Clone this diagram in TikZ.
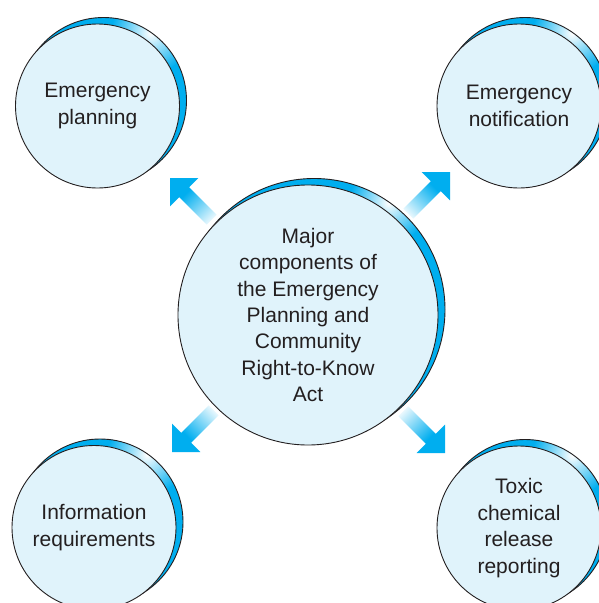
\documentclass[tikz,border=0pt]{standalone}
\usepackage{fontspec}
\setmainfont{Liberation Sans}
\usetikzlibrary{calc}
\definecolor{accent}{RGB}{0,174,239}
\definecolor{discfill}{RGB}{224,243,251}
\definecolor{ink}{RGB}{35,31,32}
\pgfdeclareverticalshading{arrowfade}{100bp}{color(0bp)=(white); color(18bp)=(white); color(62bp)=(accent); color(100bp)=(accent)}
\newcommand\mybackdisc[2]{%
  \begin{scope}
    \clip ($(#1)+(6,-5.5)$) circle (#2+1);
    \fill[accent] ($(#1)+(6,-5.5)$) circle (#2+1);
    \shade[inner color=white, outer color=accent] ($(#1)+(6,-5.5)+(-55:#2)$) circle (40);
  \end{scope}
  \draw[discline] ($(#1)+(6,-5.5)$) circle (#2+1);
}
\newcommand\myfatarrow[3]{%
  \shade[shading=arrowfade, shading angle=#3, shift={(#1)}, rotate=#2]
    (0,0) -- (-20,20) -- (-20,7) -- (-59,7) -- (-59,-7) -- (-20,-7) -- (-20,-20) -- cycle;
}
\tikzset{
  discline/.style={draw=ink, line width=0.9pt},
  disc/.style={circle, discline, fill=discfill, text=ink, align=center, inner sep=0pt,
    font=\fontsize{21}{26.4}\selectfont},
}
\begin{document}
\begin{tikzpicture}[x=1pt,y=-1pt]
\useasboundingbox (0,0) rectangle (598,603);
\fill[white] (0,0) rectangle (598,603);
% centres
\coordinate (ctl) at (97.5,106);
\coordinate (ctr) at (519,106);
\coordinate (cbl) at (94,527.5);
\coordinate (cbr) at (519,528);
\coordinate (cc) at (308,315);
% back discs
\mybackdisc{ctl}{82}
\mybackdisc{ctr}{82}
\mybackdisc{cbl}{82}
\mybackdisc{cbr}{82}
\mybackdisc{cc}{130}
% front discs
\node[disc, minimum size=164pt] (tl) at (ctl) {Emergency\\planning};
\node[disc, minimum size=164pt] (tr) at (ctr) {Emergency\\notification};
\node[disc, minimum size=164pt] (bl) at (cbl) {Information\\requirements};
\node[disc, minimum size=164pt] (br) at (cbr) {Toxic\\chemical\\release\\reporting};
\node[disc, minimum size=260pt] (c) at (cc) {Major\\components of\\the Emergency\\Planning and\\Community\\Right-to-Know\\Act};
% arrows
\coordinate (atl) at (170,178);
\coordinate (atr) at (450,172);
\coordinate (abl) at (172,452);
\coordinate (abr) at (445,453);
\myfatarrow{atl}{135}{45}
\myfatarrow{atr}{45}{-45}
\myfatarrow{abl}{225}{135}
\myfatarrow{abr}{315}{225}
\end{tikzpicture}
\end{document}
